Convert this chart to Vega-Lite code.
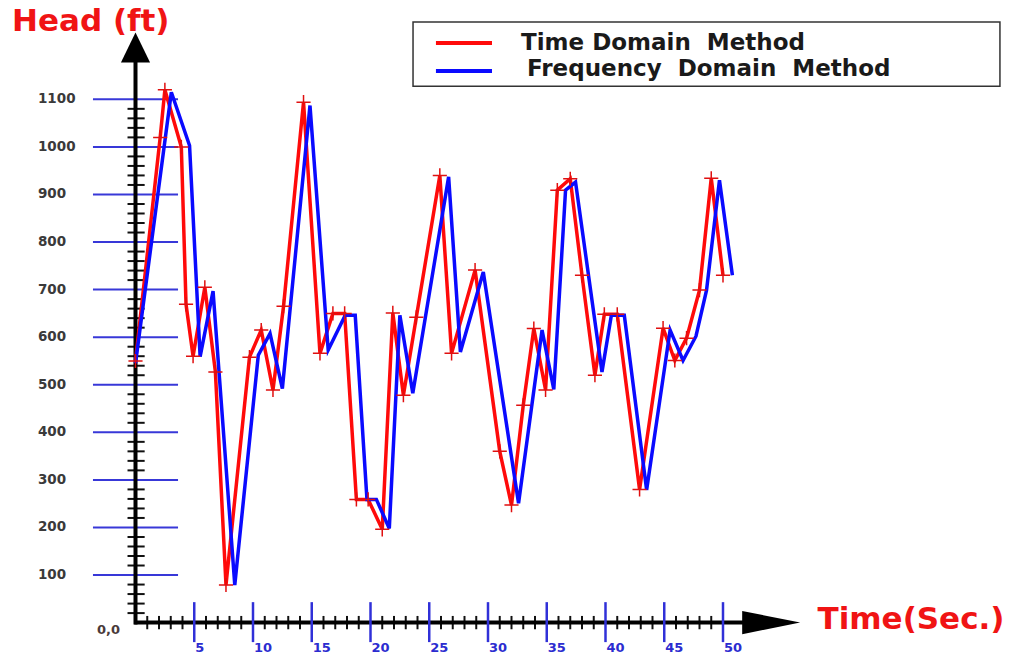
{
  "$schema": "https://vega.github.io/schema/vega-lite/v6.json",
  "width": 1020,
  "height": 657,
  "autosize": {"type": "none"},
  "padding": 0,
  "background": "white",
  "config": {"view": {"stroke": null}},
  "datasets": {
    "series": [
      {"t": 0, "v": 550, "method": "Time Domain Method"},
      {"t": 2.1, "v": 1020, "method": "Time Domain Method"},
      {"t": 2.5, "v": 1120, "method": "Time Domain Method"},
      {"t": 3.9, "v": 1000, "method": "Time Domain Method"},
      {"t": 4.3, "v": 669, "method": "Time Domain Method"},
      {"t": 4.9, "v": 560, "method": "Time Domain Method"},
      {"t": 5.9, "v": 705, "method": "Time Domain Method"},
      {"t": 6.8, "v": 527, "method": "Time Domain Method"},
      {"t": 7.7, "v": 79, "method": "Time Domain Method"},
      {"t": 9.7, "v": 558, "method": "Time Domain Method"},
      {"t": 10.7, "v": 615, "method": "Time Domain Method"},
      {"t": 11.7, "v": 489, "method": "Time Domain Method"},
      {"t": 12.6, "v": 665, "method": "Time Domain Method"},
      {"t": 14.3, "v": 1094, "method": "Time Domain Method"},
      {"t": 15.7, "v": 566, "method": "Time Domain Method"},
      {"t": 16.8, "v": 650, "method": "Time Domain Method"},
      {"t": 17.8, "v": 650, "method": "Time Domain Method"},
      {"t": 18.8, "v": 259, "method": "Time Domain Method"},
      {"t": 19.8, "v": 259, "method": "Time Domain Method"},
      {"t": 21.0, "v": 196, "method": "Time Domain Method"},
      {"t": 21.9, "v": 651, "method": "Time Domain Method"},
      {"t": 22.8, "v": 478, "method": "Time Domain Method"},
      {"t": 23.9, "v": 642, "method": "Time Domain Method"},
      {"t": 25.9, "v": 940, "method": "Time Domain Method"},
      {"t": 26.9, "v": 566, "method": "Time Domain Method"},
      {"t": 28.9, "v": 741, "method": "Time Domain Method"},
      {"t": 31.0, "v": 360, "method": "Time Domain Method"},
      {"t": 32.0, "v": 247, "method": "Time Domain Method"},
      {"t": 33.0, "v": 457, "method": "Time Domain Method"},
      {"t": 33.9, "v": 618, "method": "Time Domain Method"},
      {"t": 34.9, "v": 489, "method": "Time Domain Method"},
      {"t": 35.9, "v": 909, "method": "Time Domain Method"},
      {"t": 37.0, "v": 933, "method": "Time Domain Method"},
      {"t": 38.0, "v": 730, "method": "Time Domain Method"},
      {"t": 39.1, "v": 520, "method": "Time Domain Method"},
      {"t": 39.9, "v": 648, "method": "Time Domain Method"},
      {"t": 41.0, "v": 648, "method": "Time Domain Method"},
      {"t": 42.9, "v": 280, "method": "Time Domain Method"},
      {"t": 44.9, "v": 619, "method": "Time Domain Method"},
      {"t": 45.9, "v": 551, "method": "Time Domain Method"},
      {"t": 46.9, "v": 598, "method": "Time Domain Method"},
      {"t": 48.0, "v": 699, "method": "Time Domain Method"},
      {"t": 49.0, "v": 934, "method": "Time Domain Method"},
      {"t": 50.0, "v": 730, "method": "Time Domain Method"},
      {"t": 0, "v": 545, "method": "Frequency Domain Method"},
      {"t": 3.05, "v": 1115, "method": "Frequency Domain Method"},
      {"t": 4.6, "v": 1003, "method": "Frequency Domain Method"},
      {"t": 5.5, "v": 559, "method": "Frequency Domain Method"},
      {"t": 6.6, "v": 697, "method": "Frequency Domain Method"},
      {"t": 8.45, "v": 79, "method": "Frequency Domain Method"},
      {"t": 10.45, "v": 562, "method": "Frequency Domain Method"},
      {"t": 11.45, "v": 608, "method": "Frequency Domain Method"},
      {"t": 12.5, "v": 492, "method": "Frequency Domain Method"},
      {"t": 14.85, "v": 1087, "method": "Frequency Domain Method"},
      {"t": 16.4, "v": 573, "method": "Frequency Domain Method"},
      {"t": 17.85, "v": 646, "method": "Frequency Domain Method"},
      {"t": 18.7, "v": 646, "method": "Frequency Domain Method"},
      {"t": 19.7, "v": 259, "method": "Frequency Domain Method"},
      {"t": 20.5, "v": 259, "method": "Frequency Domain Method"},
      {"t": 21.6, "v": 198, "method": "Frequency Domain Method"},
      {"t": 22.5, "v": 646, "method": "Frequency Domain Method"},
      {"t": 23.6, "v": 482, "method": "Frequency Domain Method"},
      {"t": 26.65, "v": 937, "method": "Frequency Domain Method"},
      {"t": 27.65, "v": 569, "method": "Frequency Domain Method"},
      {"t": 29.6, "v": 737, "method": "Frequency Domain Method"},
      {"t": 32.6, "v": 251, "method": "Frequency Domain Method"},
      {"t": 34.6, "v": 615, "method": "Frequency Domain Method"},
      {"t": 35.6, "v": 490, "method": "Frequency Domain Method"},
      {"t": 36.6, "v": 909, "method": "Frequency Domain Method"},
      {"t": 37.45, "v": 926, "method": "Frequency Domain Method"},
      {"t": 39.7, "v": 527, "method": "Frequency Domain Method"},
      {"t": 40.5, "v": 646, "method": "Frequency Domain Method"},
      {"t": 41.6, "v": 646, "method": "Frequency Domain Method"},
      {"t": 43.5, "v": 279, "method": "Frequency Domain Method"},
      {"t": 45.5, "v": 615, "method": "Frequency Domain Method"},
      {"t": 46.6, "v": 551, "method": "Frequency Domain Method"},
      {"t": 47.7, "v": 602, "method": "Frequency Domain Method"},
      {"t": 48.6, "v": 699, "method": "Frequency Domain Method"},
      {"t": 49.7, "v": 930, "method": "Frequency Domain Method"},
      {"t": 50.8, "v": 730, "method": "Frequency Domain Method"}
    ],
    "ymajor": [
      {"v": 100}, {"v": 200}, {"v": 300}, {"v": 400}, {"v": 500}, {"v": 600},
      {"v": 700}, {"v": 800}, {"v": 900}, {"v": 1000}, {"v": 1100}
    ],
    "yminor": [
      {"v": 20}, {"v": 40}, {"v": 60}, {"v": 80},
      {"v": 120}, {"v": 140}, {"v": 160}, {"v": 180},
      {"v": 220}, {"v": 240}, {"v": 260}, {"v": 280},
      {"v": 320}, {"v": 340}, {"v": 360}, {"v": 380},
      {"v": 420}, {"v": 440}, {"v": 460}, {"v": 480},
      {"v": 520}, {"v": 540}, {"v": 560}, {"v": 580},
      {"v": 620}, {"v": 640}, {"v": 660}, {"v": 680},
      {"v": 720}, {"v": 740}, {"v": 760}, {"v": 780},
      {"v": 820}, {"v": 840}, {"v": 860}, {"v": 880},
      {"v": 920}, {"v": 940}, {"v": 960}, {"v": 980},
      {"v": 1020}, {"v": 1040}, {"v": 1060}, {"v": 1080}
    ],
    "xmajor": [
      {"t": 5}, {"t": 10}, {"t": 15}, {"t": 20}, {"t": 25},
      {"t": 30}, {"t": 35}, {"t": 40}, {"t": 45}, {"t": 50}
    ],
    "xminor": [
      {"t": 1}, {"t": 2}, {"t": 3}, {"t": 4},
      {"t": 6}, {"t": 7}, {"t": 8}, {"t": 9},
      {"t": 11}, {"t": 12}, {"t": 13}, {"t": 14},
      {"t": 16}, {"t": 17}, {"t": 18}, {"t": 19},
      {"t": 21}, {"t": 22}, {"t": 23}, {"t": 24},
      {"t": 26}, {"t": 27}, {"t": 28}, {"t": 29},
      {"t": 31}, {"t": 32}, {"t": 33}, {"t": 34},
      {"t": 36}, {"t": 37}, {"t": 38}, {"t": 39},
      {"t": 41}, {"t": 42}, {"t": 43}, {"t": 44},
      {"t": 46}, {"t": 47}, {"t": 48}, {"t": 49}
    ],
    "one": [{"id": 1}]
  },
  "layer": [
    {
      "data": {"name": "ymajor"},
      "mark": {"type": "rule", "color": "#3838d8", "strokeWidth": 2},
      "encoding": {
        "x": {"datum": -3.62, "type": "quantitative", "scale": {"domain": [-11.532, 75.277], "nice": false, "zero": false}, "axis": null},
        "x2": {"datum": 3.62},
        "y": {"field": "v", "type": "quantitative", "scale": {"domain": [-72.3, 1308.8], "nice": false, "zero": false}, "axis": null}
      }
    },
    {
      "data": {"name": "yminor"},
      "mark": {"type": "rule", "color": "#111111", "strokeWidth": 2},
      "encoding": {
        "x": {"datum": -0.68, "type": "quantitative", "scale": {"domain": [-11.532, 75.277], "nice": false, "zero": false}, "axis": null},
        "x2": {"datum": 0.78},
        "y": {"field": "v", "type": "quantitative", "scale": {"domain": [-72.3, 1308.8], "nice": false, "zero": false}, "axis": null}
      }
    },
    {
      "data": {"name": "xminor"},
      "mark": {"type": "rule", "color": "#111111", "strokeWidth": 2},
      "encoding": {
        "x": {"field": "t", "type": "quantitative", "scale": {"domain": [-11.532, 75.277], "nice": false, "zero": false}, "axis": null},
        "y": {"datum": -14, "type": "quantitative", "scale": {"domain": [-72.3, 1308.8], "nice": false, "zero": false}, "axis": null},
        "y2": {"datum": 14}
      }
    },
    {
      "data": {"name": "one"},
      "mark": {"type": "rule", "color": "#000000", "strokeWidth": 4},
      "encoding": {
        "x": {"datum": 0, "type": "quantitative", "scale": {"domain": [-11.532, 75.277], "nice": false, "zero": false}, "axis": null},
        "y": {"datum": -4, "type": "quantitative", "scale": {"domain": [-72.3, 1308.8], "nice": false, "zero": false}, "axis": null},
        "y2": {"datum": 1185}
      }
    },
    {
      "data": {"name": "one"},
      "mark": {"type": "rule", "color": "#000000", "strokeWidth": 4},
      "encoding": {
        "x": {"datum": -0.1, "type": "quantitative", "scale": {"domain": [-11.532, 75.277], "nice": false, "zero": false}, "axis": null},
        "x2": {"datum": 52},
        "y": {"datum": 0, "type": "quantitative", "scale": {"domain": [-72.3, 1308.8], "nice": false, "zero": false}, "axis": null}
      }
    },
    {
      "data": {"name": "one"},
      "mark": {"type": "point", "shape": "M0,-1L-0.97,1L0.97,1Z", "filled": true, "color": "#000000", "opacity": 1, "size": 900},
      "encoding": {
        "x": {"datum": 0, "type": "quantitative", "scale": {"domain": [-11.532, 75.277], "nice": false, "zero": false}, "axis": null},
        "y": {"datum": 1209, "type": "quantitative", "scale": {"domain": [-72.3, 1308.8], "nice": false, "zero": false}, "axis": null}
      }
    },
    {
      "data": {"name": "one"},
      "mark": {"type": "point", "shape": "M1,0L-1,-0.4L-1,0.4Z", "filled": true, "color": "#000000", "opacity": 1, "size": 3364},
      "encoding": {
        "x": {"datum": 54.1, "type": "quantitative", "scale": {"domain": [-11.532, 75.277], "nice": false, "zero": false}, "axis": null},
        "y": {"datum": 0, "type": "quantitative", "scale": {"domain": [-72.3, 1308.8], "nice": false, "zero": false}, "axis": null}
      }
    },
    {
      "data": {"name": "xmajor"},
      "mark": {"type": "rule", "color": "#3030d8", "strokeWidth": 2.5},
      "encoding": {
        "x": {"field": "t", "type": "quantitative", "scale": {"domain": [-11.532, 75.277], "nice": false, "zero": false}, "axis": null},
        "y": {"datum": -41, "type": "quantitative", "scale": {"domain": [-72.3, 1308.8], "nice": false, "zero": false}, "axis": null},
        "y2": {"datum": 43}
      }
    },
    {
      "data": {"name": "ymajor"},
      "mark": {"type": "text", "align": "left", "baseline": "middle", "font": "DejaVu Sans", "fontWeight": "bold", "fontSize": 13.5, "color": "#3a3a3a"},
      "encoding": {
        "x": {"datum": -8.3, "type": "quantitative", "scale": {"domain": [-11.532, 75.277], "nice": false, "zero": false}, "axis": null},
        "y": {"field": "v", "type": "quantitative", "scale": {"domain": [-72.3, 1308.8], "nice": false, "zero": false}, "axis": null},
        "text": {"field": "v", "type": "quantitative"}
      }
    },
    {
      "data": {"name": "xmajor"},
      "mark": {"type": "text", "align": "left", "baseline": "middle", "dx": 1, "font": "DejaVu Sans", "fontWeight": "bold", "fontSize": 13, "color": "#2c2cd0"},
      "encoding": {
        "x": {"field": "t", "type": "quantitative", "scale": {"domain": [-11.532, 75.277], "nice": false, "zero": false}, "axis": null},
        "y": {"datum": -53.4, "type": "quantitative", "scale": {"domain": [-72.3, 1308.8], "nice": false, "zero": false}, "axis": null},
        "text": {"field": "t", "type": "quantitative"}
      }
    },
    {
      "data": {"name": "one"},
      "mark": {"type": "text", "align": "left", "baseline": "middle", "font": "DejaVu Sans", "fontWeight": "bold", "fontSize": 13, "color": "#4a3a3a", "text": "0,0"},
      "encoding": {
        "x": {"datum": -3.28, "type": "quantitative", "scale": {"domain": [-11.532, 75.277], "nice": false, "zero": false}, "axis": null},
        "y": {"datum": -15.6, "type": "quantitative", "scale": {"domain": [-72.3, 1308.8], "nice": false, "zero": false}, "axis": null}
      }
    },
    {
      "data": {"name": "series"},
      "transform": [{"filter": "datum.method === 'Time Domain Method'"}],
      "mark": {"type": "line", "strokeWidth": 3.5},
      "encoding": {
        "x": {"field": "t", "type": "quantitative", "scale": {"domain": [-11.532, 75.277], "nice": false, "zero": false}, "axis": null},
        "y": {"field": "v", "type": "quantitative", "scale": {"domain": [-72.3, 1308.8], "nice": false, "zero": false}, "axis": null},
        "color": {"field": "method", "type": "nominal", "scale": {"domain": ["Time Domain Method", "Frequency Domain Method"], "range": ["#ff0a0a", "#0a0aff"]}, "legend": null}
      }
    },
    {
      "data": {"name": "series"},
      "transform": [{"filter": "datum.method === 'Frequency Domain Method'"}],
      "mark": {"type": "line", "strokeWidth": 3.5},
      "encoding": {
        "x": {"field": "t", "type": "quantitative", "scale": {"domain": [-11.532, 75.277], "nice": false, "zero": false}, "axis": null},
        "y": {"field": "v", "type": "quantitative", "scale": {"domain": [-72.3, 1308.8], "nice": false, "zero": false}, "axis": null},
        "color": {"field": "method", "type": "nominal", "scale": {"domain": ["Time Domain Method", "Frequency Domain Method"], "range": ["#ff0a0a", "#0a0aff"]}, "legend": null}
      }
    },
    {
      "data": {"name": "series"},
      "transform": [{"filter": "datum.method === 'Time Domain Method'"}],
      "mark": {"type": "point", "shape": "M-1,0L1,0M0,-1L0,1", "filled": false, "color": "#e01010", "strokeWidth": 1.5, "opacity": 1, "size": 200},
      "encoding": {
        "x": {"field": "t", "type": "quantitative", "scale": {"domain": [-11.532, 75.277], "nice": false, "zero": false}, "axis": null},
        "y": {"field": "v", "type": "quantitative", "scale": {"domain": [-72.3, 1308.8], "nice": false, "zero": false}, "axis": null}
      }
    },
    {
      "data": {"name": "one"},
      "mark": {"type": "rect", "fill": "white", "stroke": "#333333", "strokeWidth": 1.5},
      "encoding": {
        "x": {"datum": 23.62, "type": "quantitative", "scale": {"domain": [-11.532, 75.277], "nice": false, "zero": false}, "axis": null},
        "x2": {"datum": 73.57},
        "y": {"datum": 1262.6, "type": "quantitative", "scale": {"domain": [-72.3, 1308.8], "nice": false, "zero": false}, "axis": null},
        "y2": {"datum": 1127.6}
      }
    },
    {
      "data": {"name": "one"},
      "mark": {"type": "rule", "color": "#ff0a0a", "strokeWidth": 4},
      "encoding": {
        "x": {"datum": 25.57, "type": "quantitative", "scale": {"domain": [-11.532, 75.277], "nice": false, "zero": false}, "axis": null},
        "x2": {"datum": 30.34},
        "y": {"datum": 1218.4, "type": "quantitative", "scale": {"domain": [-72.3, 1308.8], "nice": false, "zero": false}, "axis": null}
      }
    },
    {
      "data": {"name": "one"},
      "mark": {"type": "rule", "color": "#0a0aff", "strokeWidth": 4},
      "encoding": {
        "x": {"datum": 25.57, "type": "quantitative", "scale": {"domain": [-11.532, 75.277], "nice": false, "zero": false}, "axis": null},
        "x2": {"datum": 30.34},
        "y": {"datum": 1159.6, "type": "quantitative", "scale": {"domain": [-72.3, 1308.8], "nice": false, "zero": false}, "axis": null}
      }
    },
    {
      "data": {"name": "one"},
      "mark": {"type": "text", "align": "left", "baseline": "middle", "font": "DejaVu Sans", "fontWeight": "bold", "fontSize": 23, "color": "#1a1a1a", "text": "Time Domain\u00a0\u00a0Method"},
      "encoding": {
        "x": {"datum": 32.81, "type": "quantitative", "scale": {"domain": [-11.532, 75.277], "nice": false, "zero": false}, "axis": null},
        "y": {"datum": 1218.4, "type": "quantitative", "scale": {"domain": [-72.3, 1308.8], "nice": false, "zero": false}, "axis": null}
      }
    },
    {
      "data": {"name": "one"},
      "mark": {"type": "text", "align": "left", "baseline": "middle", "font": "DejaVu Sans", "fontWeight": "bold", "fontSize": 23, "color": "#1a1a1a", "text": "Frequency\u00a0\u00a0Domain\u00a0\u00a0Method"},
      "encoding": {
        "x": {"datum": 33.32, "type": "quantitative", "scale": {"domain": [-11.532, 75.277], "nice": false, "zero": false}, "axis": null},
        "y": {"datum": 1163.3, "type": "quantitative", "scale": {"domain": [-72.3, 1308.8], "nice": false, "zero": false}, "axis": null}
      }
    },
    {
      "data": {"name": "one"},
      "mark": {"type": "text", "align": "left", "baseline": "middle", "font": "DejaVu Sans", "fontWeight": "bold", "fontSize": 31, "color": "#f01414", "text": "Head (ft)"},
      "encoding": {
        "x": {"datum": -10.51, "type": "quantitative", "scale": {"domain": [-11.532, 75.277], "nice": false, "zero": false}, "axis": null},
        "y": {"datum": 1262.6, "type": "quantitative", "scale": {"domain": [-72.3, 1308.8], "nice": false, "zero": false}, "axis": null}
      }
    },
    {
      "data": {"name": "one"},
      "mark": {"type": "text", "align": "center", "baseline": "middle", "font": "DejaVu Sans", "fontWeight": "bold", "fontSize": 31, "color": "#f01414", "text": "Time(Sec.)"},
      "encoding": {
        "x": {"datum": 66.0, "type": "quantitative", "scale": {"domain": [-11.532, 75.277], "nice": false, "zero": false}, "axis": null},
        "y": {"datum": 5.5, "type": "quantitative", "scale": {"domain": [-72.3, 1308.8], "nice": false, "zero": false}, "axis": null}
      }
    }
  ]
}
